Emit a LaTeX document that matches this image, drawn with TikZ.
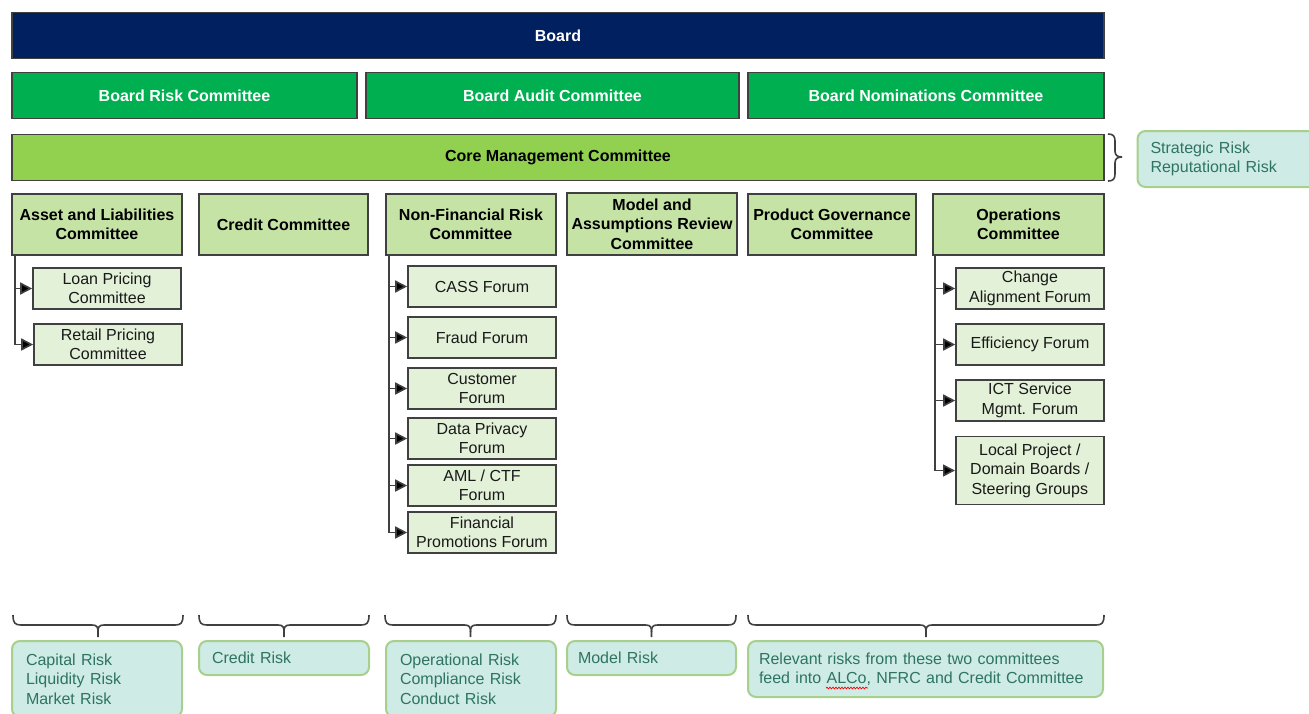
\documentclass[tikz,border=0pt]{standalone}
\usepackage{fontspec}
\setmainfont{Liberation Sans}
\usetikzlibrary{arrows.meta,decorations.pathmorphing}
\definecolor{navyc}{RGB}{0,32,96}
\definecolor{bgreenc}{RGB}{0,176,80}
\definecolor{lgreenc}{RGB}{146,208,80}
\definecolor{cboxc}{RGB}{198,227,166}
\definecolor{sboxc}{RGB}{227,241,217}
\definecolor{bdc}{RGB}{64,64,64}
\definecolor{riskfill}{RGB}{206,235,229}
\definecolor{riskbd}{RGB}{166,208,140}
\definecolor{risktext}{RGB}{46,116,98}
\tikzset{
  base/.style={draw=bdc, line width=1.6pt, inner sep=1pt, align=center,
    font=\fontsize{16}{19.5}\selectfont},
  navybox/.style={base, fill=navyc, text=white, font=\fontsize{16}{19.5}\selectfont\bfseries},
  bgbox/.style={base, fill=bgreenc, text=white, font=\fontsize{16}{19.5}\selectfont\bfseries, minimum height=46pt},
  lgbox/.style={base, fill=lgreenc, text=black, font=\fontsize{16}{19.5}\selectfont\bfseries},
  cbox/.style={base, fill=cboxc, text=black, font=\fontsize{16}{19.5}\selectfont\bfseries, minimum height=61pt},
  sbox/.style={base, fill=sboxc, text=black!90, minimum width=148pt, minimum height=41pt},
  riskbox/.style={rounded corners=8pt, fill=riskfill, draw=riskbd, line width=2pt,
    text=risktext, align=left, inner ysep=2pt, font=\fontsize{16}{19.5}\selectfont},
  conn/.style={draw=bdc, line width=1.6pt, -{Triangle[length=12pt,width=12pt,fill=black]}},
  brc/.style={draw=bdc, line width=1.6pt},
}
\newcommand{\mybrace}[2]{%
  \draw[brc] (#1,615) .. controls (#1,623) and (#1+2,625) .. (#1+8,625)
     -- ({(#1+#2)/2-6},625) .. controls ({(#1+#2)/2-1},625) and ({(#1+#2)/2},627) .. ({(#1+#2)/2},632) -- ({(#1+#2)/2},637);
  \draw[brc] (#2,615) .. controls (#2,623) and (#2-2,625) .. (#2-8,625)
     -- ({(#1+#2)/2+6},625) .. controls ({(#1+#2)/2+1},625) and ({(#1+#2)/2},627) .. ({(#1+#2)/2},632);
}
\begin{document}
\begin{tikzpicture}[x=1pt,y=-1pt]
\useasboundingbox (0,0) rectangle (1309,713);
% top rows
\node[navybox, minimum width=1092pt, minimum height=46pt] (board) at (558,35.5) {Board};
\node[bgbox, minimum width=345pt] (brc) at (184.5,95.5) {Board Risk Committee};
\node[bgbox, minimum width=373pt] (bac) at (552.5,95.5) {Board Audit Committee};
\node[bgbox, minimum width=356pt] (bnc) at (926,95.5) {Board Nominations Committee};
\node[lgbox, minimum width=1092pt, minimum height=46pt] (cmc) at (558,157.5) {Core Management Committee};
% committees
\node[cbox, minimum width=170pt] (alco) at (97,224.5) {Asset and Liabilities\\Committee};
\node[cbox, minimum width=169pt] (cc) at (283.5,224.5) {Credit Committee};
\node[cbox, minimum width=170pt] (nfrc) at (471,224.5) {Non-Financial Risk\\Committee};
\node[cbox, minimum width=170pt, minimum height=62pt] (marc) at (652,224) {Model and\\Assumptions Review\\Committee};
\node[cbox, minimum width=168pt] (pgc) at (832,224.5) {Product Governance\\Committee};
\node[cbox, minimum width=171pt] (ops) at (1018.5,224.5) {Operations\\Committee};
% ALCo subs
\node[sbox] (loan) at (107,288.5) {Loan Pricing\\Committee};
\node[sbox] (retail) at (108,344.5) {Retail Pricing\\Committee};
% NFRC subs
\node[sbox] (cass) at (482,286.5) {CASS Forum};
\node[sbox] (fraud) at (482,337.5) {Fraud Forum};
\node[sbox] (cust) at (482,388.5) {Customer\\Forum};
\node[sbox] (data) at (482,438.5) {Data Privacy\\Forum};
\node[sbox] (aml) at (482,485.5) {AML / CTF\\Forum};
\node[sbox] (finp) at (482,532.5) {Financial\\Promotions Forum};
% Ops subs
\node[sbox] (change) at (1030,288.5) {Change\\Alignment Forum};
\node[sbox] (eff) at (1030,344.5) {Efficiency Forum};
\node[sbox] (ict) at (1030,400.5) {ICT Service\\Mgmt. Forum};
\node[sbox, minimum height=68pt] (local) at (1029.8,470.5) {Local Project /\\Domain Boards /\\Steering Groups};
% connectors
\foreach \c in {loan,retail} \draw[conn] ([xshift=4pt]alco.south west) |- (\c.west);
\foreach \c in {cass,fraud,cust,data,aml,finp} \draw[conn] ([xshift=3.5pt]nfrc.south west) |- (\c.west);
\foreach \c in {change,eff,ict,local} \draw[conn] ([xshift=3pt]ops.south west) |- (\c.west);
% right brace
\draw[brc] (1108,134) .. controls (1113,134) and (1115,136) .. (1115,141) -- (1115,151)
   .. controls (1115,155) and (1117,157) .. (1122,157);
\draw[brc] (1108,181) .. controls (1113,181) and (1115,179) .. (1115,174) -- (1115,163)
   .. controls (1115,159) and (1117,157) .. (1122,157);
\node[riskbox, text width=157pt, inner xsep=13pt, minimum height=56pt] (strat) at (1229,159) {Strategic Risk\\Reputational Risk};
% bottom braces
\mybrace{13}{183}
\mybrace{199}{369}
\mybrace{385}{556}
\mybrace{567}{736}
\mybrace{748}{1104}
% risk boxes
\node[riskbox, text width=142pt, inner xsep=14pt, minimum height=76pt] (alr) at (97,679) {Capital Risk\\Liquidity Risk\\Market Risk};
\node[riskbox, text width=144pt, inner xsep=13pt, minimum height=34pt] (cr) at (284,658) {Credit Risk};
\node[riskbox, text width=142pt, inner xsep=14pt, minimum height=76pt] (opr) at (471,679) {Operational Risk\\Compliance Risk\\Conduct Risk};
\node[riskbox, text width=147pt, inner xsep=11pt, minimum height=34pt] (mr) at (651.5,658) {Model Risk};
\node[riskbox, text width=333pt, inner xsep=11pt, minimum height=56pt] (rel) at (925.5,669) {Relevant risks from these two committees\\feed into ALCo, NFRC and Credit Committee};
\draw[red, line width=0.7pt, decorate, decoration={snake, amplitude=0.9pt, segment length=3pt}] (826,688) -- (868,688);
\end{tikzpicture}
\end{document}
